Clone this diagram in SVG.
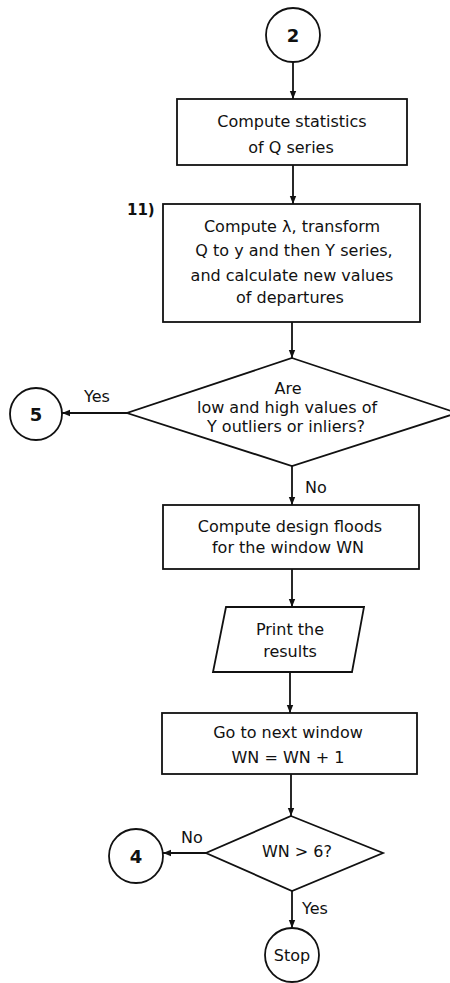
<svg xmlns="http://www.w3.org/2000/svg" width="450" height="983" viewBox="0 0 450 983">
  <style>
    .shape { fill: #ffffff; stroke: #111111; stroke-width: 1.8; }
    .link { fill: none; stroke: #111111; stroke-width: 1.8; }
    text { font-family: "DejaVu Sans", "Liberation Sans", sans-serif; font-size: 16px; fill: #111111; text-anchor: middle; }
    .num { font-size: 18px; font-weight: bold; }
    .lbl { text-anchor: start; }
  </style>
  <defs>
    <marker id="arrow" viewBox="0 0 10 10" refX="10" refY="5" markerWidth="9" markerHeight="8" markerUnits="userSpaceOnUse" orient="auto">
      <path d="M0,1 L10,5 L0,9 Z" fill="#111111"/>
    </marker>
  </defs>

  <rect width="450" height="983" fill="#ffffff"/>

  <!-- connectors -->
  <g id="connectors">
    <line class="link" x1="293" y1="62" x2="293" y2="99" marker-end="url(#arrow)"/>
    <line class="link" x1="293" y1="165" x2="293" y2="204" marker-end="url(#arrow)"/>
    <line class="link" x1="292" y1="322" x2="292" y2="358" marker-end="url(#arrow)"/>
    <line class="link" x1="127" y1="413" x2="62" y2="413" marker-end="url(#arrow)"/>
    <line class="link" x1="292" y1="466" x2="292" y2="505" marker-end="url(#arrow)"/>
    <line class="link" x1="292" y1="569" x2="292" y2="607" marker-end="url(#arrow)"/>
    <line class="link" x1="290" y1="672" x2="290" y2="713" marker-end="url(#arrow)"/>
    <line class="link" x1="291" y1="774" x2="291" y2="816" marker-end="url(#arrow)"/>
    <line class="link" x1="206" y1="853" x2="163" y2="853" marker-end="url(#arrow)"/>
    <line class="link" x1="292" y1="891" x2="292" y2="928" marker-end="url(#arrow)"/>
    <text class="lbl" x="84" y="402">Yes</text>
    <text class="lbl" x="305" y="493">No</text>
    <text class="lbl" x="181" y="843">No</text>
    <text class="lbl" x="302" y="914">Yes</text>
  </g>

  <g id="conn-2">
    <circle class="shape" cx="293" cy="35" r="27"/>
    <text class="num" x="293" y="41.5">2</text>
  </g>

  <g id="stats">
    <rect class="shape" x="177" y="99" width="230" height="66"/>
    <text x="292" y="127">Compute statistics</text>
    <text x="291" y="153">of Q series</text>
  </g>

  <g id="transform">
    <text class="lbl" x="127" y="215" style="font-weight:bold;font-size:15px">11)</text>
    <rect class="shape" x="163" y="204" width="257" height="118"/>
    <text x="292" y="232">Compute λ, transform</text>
    <text x="294" y="256">Q to y and then Y series,</text>
    <text x="292" y="281">and calculate new values</text>
    <text x="290" y="303">of departures</text>
  </g>

  <g id="outlier-test">
    <polygon class="shape" points="292,358 457,413 292,466 127,413"/>
    <text x="288" y="394">Are</text>
    <text x="287" y="413">low and high values of</text>
    <text x="286" y="432">Y outliers or inliers?</text>
  </g>

  <g id="conn-5">
    <circle class="shape" cx="36" cy="414" r="26"/>
    <text class="num" x="36" y="420.5">5</text>
  </g>

  <g id="design-floods">
    <rect class="shape" x="163" y="505" width="256" height="64"/>
    <text x="290" y="532">Compute design floods</text>
    <text x="288" y="553">for the window WN</text>
  </g>

  <g id="print">
    <polygon class="shape" points="226,607 364,607 352,672 213,672"/>
    <text x="290" y="635">Print the</text>
    <text x="290" y="657">results</text>
  </g>

  <g id="next-window">
    <rect class="shape" x="162" y="713" width="255" height="61"/>
    <text x="288" y="738">Go to next window</text>
    <text x="288" y="763">WN = WN + 1</text>
  </g>

  <g id="window-test">
    <polygon class="shape" points="291,816 383,853 292,891 206,853"/>
    <text x="297" y="857">WN &gt; 6?</text>
  </g>

  <g id="conn-4">
    <circle class="shape" cx="136" cy="856" r="27"/>
    <text class="num" x="136" y="862.5">4</text>
  </g>

  <g id="stop">
    <circle class="shape" cx="292" cy="955" r="27"/>
    <text x="292" y="961">Stop</text>
  </g>
</svg>
